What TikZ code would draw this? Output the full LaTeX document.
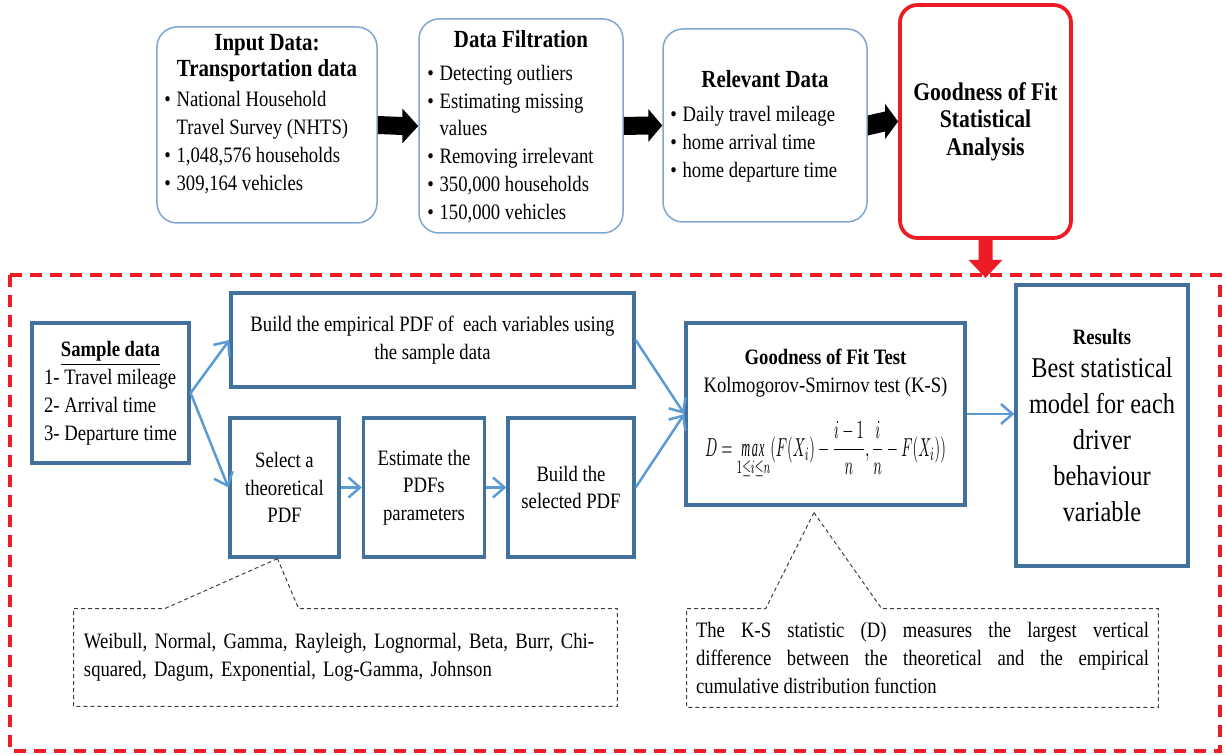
\documentclass[tikz,border=0pt]{standalone}
\usepackage{fontspec}
\usepackage{graphicx}
\setmainfont{Liberation Serif}[FakeStretch=0.85]
\usetikzlibrary{arrows.meta,calc}
\definecolor{topblue}{RGB}{126,166,210}
\definecolor{boxblue}{RGB}{65,113,156}
\definecolor{arrblue}{RGB}{91,155,213}
\definecolor{redc}{RGB}{237,28,36}
\newcommand\bodyfont{\fontsize{12.5}{15.8}\selectfont}
\newcommand\blt{\makebox[7pt][l]{•}}
% from, to, half shaft, half head, head length
\newcommand\blkarrow[5]{%
  \fill ($(#1)+(0,-#3)$) -- ($(#2)+(-#5,-#3)$) -- ($(#2)+(-#5,-#4)$) -- (#2)
    -- ($(#2)+(-#5,#4)$) -- ($(#2)+(-#5,#3)$) -- ($(#1)+(0,#3)$) -- cycle;}
\begin{document}
\begin{tikzpicture}[x=0.2mm,y=-0.2mm,
  topbox/.style={draw=topblue,line width=0.3mm,rounded corners=4mm,inner sep=0pt},
  redbox/.style={draw=redc,line width=0.75mm,rounded corners=3.5mm,inner sep=0pt,align=center,
     font=\fontsize{14.5}{15.6}\selectfont\bfseries},
  lowbox/.style={draw=boxblue,line width=0.65mm,inner sep=0pt,align=center,font=\bodyfont},
  flow/.style={draw=arrblue,line width=0.5mm,-{Straight Barb[length=2.3mm,width=4mm]}},
  callout/.style={draw=black!75,line width=0.2mm,dash pattern=on 0.8mm off 0.6mm},
  txt/.style={inner sep=0pt,font=\bodyfont},
  ttl/.style={inner sep=0pt,font=\fontsize{14}{14.5}\selectfont\bfseries,align=center},
]
\useasboundingbox (0,0) rectangle (1225,755);

% ---------- top row ----------
\node[topbox,minimum width=44mm,minimum height=39.2mm] (b1) at (267,125) {};
\node[ttl] (t1) at (267,58) {Input Data:\\Transportation data};
\node[txt,anchor=west] (l1) at (164,143) {\begin{tabular}{@{}l@{}l@{}}
\blt & National Household\\ & Travel Survey (NHTS)\\ \blt & 1,048,576 households\\ \blt & 309,164 vehicles\end{tabular}};

\node[topbox,minimum width=40.8mm,minimum height=42.8mm] (b2) at (521,126) {};
\node[ttl] (t2) at (521,39) {Data Filtration};
\node[txt,anchor=west] (l2) at (427,144.3) {\begin{tabular}{@{}l@{}l@{}}
\blt & Detecting outliers\\ \blt & Estimating missing\\ & values\\ \blt & Removing irrelevant\\
\blt & 350,000 households\\ \blt & 150,000 vehicles\end{tabular}};

\node[topbox,minimum width=40.8mm,minimum height=38.6mm] (b3) at (765,125.5) {};
\node[ttl] (t3) at (765,79) {Relevant Data};
\node[txt,anchor=west] (l3) at (670,144) {\begin{tabular}{@{}l@{}l@{}}
\blt & Daily travel mileage\\ \blt & home arrival time\\ \blt & home departure time\end{tabular}};

\node[redbox,minimum width=34.2mm,minimum height=46.6mm] (b4) at (985.5,121.5)
  {Goodness of Fit\\Statistical\\Analysis};

\blkarrow{b1.east}{b2.west}{9}{17.5}{16}
\blkarrow{b2.east}{b3.west}{9}{16.5}{14}
\blkarrow{b3.east}{b4.west}{10}{17.5}{13}

% red arrow and frame
\coordinate (rtip) at ($(b4.south)+(0,38)$);
\fill[redc] ($(b4.south)+(-7,0)$) -- ($(rtip)+(-7,-18)$) -- ($(rtip)+(-17,-18)$) -- (rtip)
  -- ($(rtip)+(17,-18)$) -- ($(rtip)+(7,-18)$) -- ($(b4.south)+(7,0)$) -- cycle;
\draw[redc,line width=0.7mm,dash pattern=on 2.4mm off 1.6mm] (10,275) rectangle (1220,751);

% ---------- lower part ----------
\node[lowbox,minimum width=31.4mm,minimum height=28mm] (sample) at (110.5,393)
  {\begin{tabular}{@{}l@{}}\multicolumn{1}{@{}c@{}}{\underline{\textbf{Sample data}}}\\
   1- Travel mileage\\2- Arrival time\\3- Departure time\end{tabular}};
\node[lowbox,minimum width=80.6mm,minimum height=18.8mm] (emp) at (432.5,340)
  {Build the empirical PDF of \ each variables using\\the sample data};
\node[lowbox,minimum width=21.8mm,minimum height=27.8mm] (select) at (284.5,487.5)
  {Select a\\theoretical\\PDF};
\node[lowbox,minimum width=24.2mm,minimum height=27.8mm] (estim) at (424,487.5)
  {Estimate the\\PDFs\\parameters};
\node[lowbox,minimum width=25.2mm,minimum height=27.8mm] (build) at (571,487.5)
  {Build the\\selected PDF};
\node[lowbox,minimum width=55.8mm,minimum height=36.4mm] (gof) at (825.5,414)
  {\textbf{Goodness of Fit Test}\\Kolmogorov-Smirnov test (K-S)\\[13pt]
   {\fontsize{11}{13}\selectfont\scalebox{0.75}[1.35]{$\displaystyle D=\mathop{\mathit{max}}\limits_{1\le i\le n}(F(X_i)-\frac{i-1}{n},\frac{i}{n}-F(X_i))$}}};
\node[lowbox,minimum width=34.4mm,minimum height=56.2mm] (results) at (1102,425.5) {};
\node[inner sep=0pt,font=\fontsize{12.5}{15}\selectfont\bfseries] (rt) at (1102,337) {Results};
\node[inner sep=0pt,align=center,font=\fontsize{16.3}{20.5}\selectfont] (rb) at (1102,440)
  {Best statistical\\model for each\\driver\\behaviour\\variable};

\draw[flow] (sample.east) -- (emp.west);
\draw[flow] (sample.east) -- (select.west);
\draw[flow] (select.east) -- (estim.west);
\draw[flow] (estim.east) -- (build.west);
\draw[flow] (emp.east) -- (gof.west);
\draw[flow] (build.east) -- (gof.west);
\draw[flow] (gof.east) -- (gof.east -| results.west);

% ---------- callouts ----------
\node[txt,text width=104.6mm,inner xsep=2mm,minimum height=19.4mm,align=left] (wb) at (345.5,657.5)
  {Weibull, Normal, Gamma, Rayleigh, Lognormal, Beta, Burr, Chi-\\squared, Dagum, Exponential, Log-Gamma, Johnson};
\coordinate (wbapex) at ($(select.south)+(-7,0)$);
\draw[callout] (wbapex) -- ($(wb.north west)+(91,0)$) -- (wb.north west) -- (wb.south west)
  -- (wb.south east) -- (wb.north east) -- ($(wb.north west)+(225,0)$) -- cycle;

\node[txt,text width=90.6mm,inner xsep=1.8mm,minimum height=19.6mm,align=justify] (ks) at (922.5,658)
  {The K-S statistic (D) measures the largest vertical\linebreak difference between the theoretical and the empirical\linebreak cumulative distribution function};
\coordinate (ksapex) at ($(gof.south)+(-11.5,6)$);
\draw[callout] (ksapex) -- ($(ks.north west)+(79,0)$) -- (ks.north west) -- (ks.south west)
  -- (ks.south east) -- (ks.north east) -- ($(ks.north west)+(195,0)$) -- cycle;
\end{tikzpicture}
\end{document}
